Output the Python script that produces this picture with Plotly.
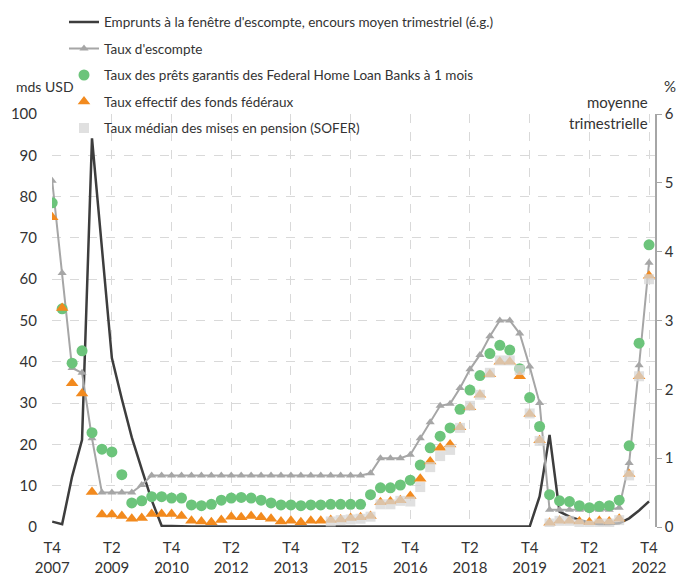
import plotly.graph_objects as go

quarters = []
for y in range(2007, 2023):
    for q in (1, 2, 3, 4):
        if (y == 2007 and q < 4):
            continue
        quarters.append(f"T{q} {y}")

borrowing = [1.3, 0.7, 12.2, 21.1, 94.1, 67.5, 40.9, 31.0, 21.7, 14.0, 6.5, 0.3,
             0.2, 0.1, 0.1, 0.1, 0.1, 0.1, 0.1, 0.1, 0.1, 0.1, 0.1, 0.1,
             0.1, 0.1, 0.1, 0.1, 0.1, 0.1, 0.1, 0.1, 0.1, 0.1, 0.1, 0.1,
             0.1, 0.1, 0.1, 0.1, 0.1, 0.1, 0.1, 0.1, 0.1, 0.1, 0.1, 0.1,
             0.1, 7.4, 22.3, 3.7, 2.5, 1.7, 0.9, 0.7, 0.7, 0.9, 2.1, 4.0, 6.2]

discount_rate = [5.03, 3.69, 2.31, 2.24, 1.29, 0.50, 0.50, 0.50, 0.50, 0.61,
                 0.75, 0.75, 0.75, 0.75, 0.75, 0.75, 0.75, 0.75, 0.75, 0.75, 0.75,
                 0.75, 0.75, 0.75, 0.75, 0.75, 0.75, 0.75, 0.75, 0.75, 0.75, 0.75,
                 0.78, 1.00, 1.00, 1.00, 1.05, 1.29, 1.52, 1.76, 1.79, 2.02, 2.29,
                 2.50, 2.77, 3.00, 3.00, 2.81, 2.33, 1.80,
                 0.25, 0.25, 0.25, 0.25, 0.25, 0.25, 0.25, 0.28, 0.93, 2.35, 3.84]

fhlb_1m = [4.71, 3.17, 2.38, 2.56, 1.37, 1.13, 1.09, 0.76, 0.35, 0.38,
           0.44, 0.44, 0.42, 0.42, 0.32, 0.31, 0.33, 0.39, 0.42, 0.43,
           0.42, 0.39, 0.35, 0.32, 0.32, 0.31, 0.32, 0.32, 0.33, 0.33,
           0.33, 0.33, 0.47, 0.57, 0.57, 0.61, 0.68, 0.90, 1.15, 1.32,
           1.44, 1.71, 1.99, 2.20, 2.52, 2.64, 2.57, 2.30, 1.88, 1.46,
           0.47, 0.38, 0.37, 0.31, 0.28, 0.30, 0.31, 0.39, 1.18, 2.67, 4.10]

effr = [4.50, 3.18, 2.09, 1.94, 0.51, 0.18, 0.18, 0.16, 0.12, 0.13,
        0.19, 0.19, 0.19, 0.16, 0.09, 0.08, 0.07, 0.10, 0.15, 0.14,
        0.16, 0.14, 0.12, 0.08, 0.09, 0.07, 0.09, 0.09, 0.10, 0.11,
        0.13, 0.14, 0.16, 0.36, 0.37, 0.39, 0.45, 0.70, 0.95, 1.15,
        1.20, 1.45, 1.74, 1.92, 2.22, 2.40, 2.40, 2.19, 1.64, 1.26,
        0.06, 0.09, 0.09, 0.08, 0.07, 0.09, 0.08, 0.12, 0.77, 2.19, 3.65]

sofr = [None] * 28 + [0.08, 0.10, 0.11, 0.12, 0.15, 0.33, 0.33, 0.38, 0.37,
                      0.58, 0.87, 1.03, 1.12, 1.44, 1.76, 1.92, 2.24, 2.42,
                      2.42, 2.28, 1.65, 1.25, 0.05, 0.09, 0.09, 0.04, 0.02,
                      0.05, 0.05, 0.10, 0.75, 2.19, 3.60]

tick_positions = quarters[::6]
tick_labels = [q.replace(" ", "<br>") for q in tick_positions]

FONT = "Lato, sans-serif"
TXT = "#333333"

fig = go.Figure()
fig.add_trace(go.Scatter(
    x=quarters, y=borrowing, mode="lines", yaxis="y",
    line=dict(color="#3d3d3d", width=2.5),
    name="Emprunts à la fenêtre d'escompte, encours moyen trimestriel (é.g.)",
    legendgroup="a"))
fig.add_trace(go.Scatter(
    x=quarters, y=discount_rate, mode="lines+markers", yaxis="y2",
    line=dict(color="#a6a6a6", width=2),
    marker=dict(symbol="triangle-up", size=8, color="#a6a6a6"),
    name="Taux d'escompte", legendgroup="b"))
fig.add_trace(go.Scatter(
    x=quarters, y=fhlb_1m, mode="markers", yaxis="y2",
    marker=dict(symbol="circle", size=11, color="#6cc47b"),
    name="Taux des prêts garantis des Federal Home Loan Banks à 1 mois",
    legendgroup="c"))
fig.add_trace(go.Scatter(
    x=quarters, y=effr, mode="markers", yaxis="y2",
    marker=dict(symbol="triangle-up", size=11, color="#f28a1e"),
    name="Taux effectif des fonds fédéraux", legendgroup="d"))
fig.add_trace(go.Scatter(
    x=quarters, y=sofr, mode="markers", yaxis="y2",
    marker=dict(symbol="square", size=10, color="rgba(214,214,214,0.75)"),
    name="Taux médian des mises en pension (SOFER)", legendgroup="e"))

grid = dict(showgrid=True, gridcolor="#d9d9d9", griddash="dash", gridwidth=1)

fig.update_layout(
    width=679, height=574,
    margin=dict(l=52, r=24, t=114, b=47, autoexpand=False),
    paper_bgcolor="white", plot_bgcolor="white",
    font=dict(family=FONT, size=15, color=TXT),
    showlegend=True,
    legend=dict(x=0.0199, y=1.26, xanchor="left", yanchor="top",
                bgcolor="rgba(0,0,0,0)",
                font=dict(family=FONT, size=13.5, color=TXT),
                tracegroupgap=6, itemwidth=30),
    xaxis=dict(type="category", range=[-0.02, 60.6], automargin=False,
               tickmode="array", tickvals=tick_positions, ticktext=tick_labels,
               ticks="", showline=False, zeroline=False, ticklabelstandoff=10,
               **grid),
    yaxis=dict(range=[0, 100], dtick=10, ticks="", showline=False,
               automargin=False, zeroline=False, ticklabelstandoff=14, **grid),
    yaxis2=dict(range=[0, 6], dtick=1, overlaying="y", side="right",
                automargin=False,
                showgrid=False, zeroline=False, showline=True,
                linecolor="#a6a6a6", linewidth=1.5, ticks="outside",
                ticklen=5, tickcolor="#a6a6a6"),
    annotations=[
        dict(text="mds USD", xref="paper", yref="paper", x=-0.0116, y=1.067,
             xanchor="center", yanchor="middle", showarrow=False,
             font=dict(size=14, color=TXT)),
        dict(text="%", xref="paper", yref="paper", x=1.025, y=1.067,
             xanchor="center", yanchor="middle", showarrow=False,
             font=dict(size=15, color=TXT)),
        dict(text="moyenne", xref="paper", yref="paper", x=0.9917, y=1.028,
             xanchor="right", yanchor="middle", showarrow=False,
             font=dict(size=15, color=TXT)),
        dict(text="trimestrielle", xref="paper", yref="paper", x=0.9917, y=0.9775,
             xanchor="right", yanchor="middle", showarrow=False,
             font=dict(size=15, color=TXT)),
    ],
)

fig.write_html(
    "out.html",
    config={"displayModeBar": False},
    post_script="document.body.style.margin='0';document.body.style.overflow='hidden';",
)
